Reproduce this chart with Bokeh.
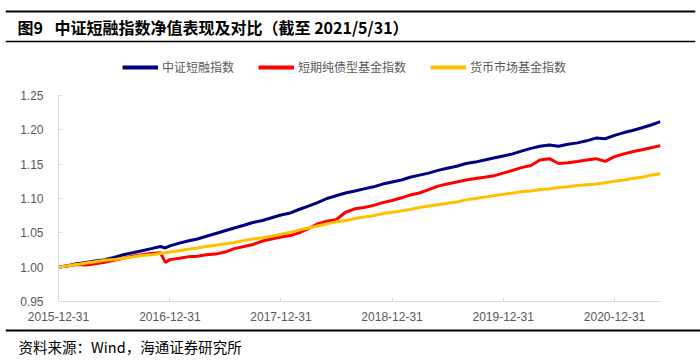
import pandas as pd
from bokeh.plotting import figure
from bokeh.models import (Range1d, FixedTicker, DatetimeTickFormatter, NumeralTickFormatter,
                          Legend, LegendItem, Span, Label)
from bokeh.layouts import column
from bokeh.embed import file_html
from bokeh.resources import INLINE

# ---------------- data ----------------
dates = list(pd.date_range("2015-12-31", "2021-05-31", freq="ME"))
dates.insert(12, pd.Timestamp("2016-12-16"))

csi_short_financing = [
    1.000, 1.002, 1.005, 1.007, 1.009, 1.011, 1.014, 1.018, 1.021, 1.024, 1.027, 1.030,
    1.028,
    1.031,
    1.035, 1.038, 1.041, 1.045, 1.049, 1.053, 1.057, 1.061, 1.065, 1.068, 1.072, 1.076,
    1.079, 1.084, 1.089, 1.094, 1.100, 1.104, 1.108, 1.111, 1.114, 1.117, 1.121, 1.124,
    1.127, 1.131, 1.134, 1.137, 1.141, 1.144, 1.147, 1.151, 1.153, 1.156, 1.159, 1.162,
    1.165, 1.169, 1.173, 1.176, 1.178, 1.176, 1.179, 1.181, 1.184, 1.188, 1.187, 1.192,
    1.196, 1.199, 1.203, 1.207, 1.212,
]
short_bond_fund = [
    1.000, 1.002, 1.004, 1.003, 1.005, 1.007, 1.010, 1.013, 1.016, 1.018, 1.020, 1.021,
    1.007,
    1.011,
    1.013, 1.015, 1.016, 1.018, 1.019, 1.022, 1.027, 1.030, 1.033, 1.038, 1.041, 1.044,
    1.046, 1.050, 1.056, 1.063, 1.067, 1.069, 1.080, 1.085, 1.087, 1.090, 1.094, 1.097,
    1.101, 1.105, 1.108, 1.113, 1.118, 1.121, 1.124, 1.127, 1.129, 1.131, 1.133, 1.137,
    1.141, 1.145, 1.148, 1.156, 1.158, 1.151, 1.152, 1.154, 1.156, 1.158, 1.154, 1.161,
    1.165, 1.168, 1.171, 1.174, 1.177,
]
money_market_fund = [
    1.000, 1.002, 1.004, 1.006, 1.008, 1.010, 1.011, 1.013, 1.015, 1.017, 1.018, 1.020,
    1.021,
    1.022,
    1.024, 1.026, 1.028, 1.030, 1.032, 1.034, 1.036, 1.039, 1.041, 1.043, 1.045, 1.048,
    1.051, 1.054, 1.057, 1.060, 1.063, 1.066, 1.068, 1.071, 1.073, 1.075, 1.078, 1.080,
    1.082, 1.084, 1.087, 1.089, 1.091, 1.093, 1.095, 1.098, 1.100, 1.102, 1.104, 1.106,
    1.108, 1.110, 1.111, 1.113, 1.114, 1.116, 1.117, 1.119, 1.120, 1.121, 1.123, 1.125,
    1.127, 1.129, 1.131, 1.134, 1.136,
]
series = [csi_short_financing, short_bond_fund, money_market_fund]
series_names = ["中证短融指数", "短期纯债型基金指数", "货币市场基金指数"]
series_colors = ["#000080", "#FF0000", "#FFC000"]
x_tick_labels = ["2015-12-31", "2016-12-31", "2017-12-31", "2018-12-31", "2019-12-31", "2020-12-31"]
y_ticks = [0.95, 1.00, 1.05, 1.10, 1.15, 1.20, 1.25]

title_prefix = "图9"
title_text = "中证短融指数净值表现及对比（截至 2021/5/31）"
source_text = "资料来源：Wind，海通证券研究所"

W = 700
CJK = "Noto Sans CJK SC"
LAT = "Liberation Sans"

# ---------------- header (title + legend) ----------------
HH = 79
hdr = figure(width=W, height=HH, x_range=Range1d(5, 695), y_range=Range1d(HH, 0),
             output_backend="svg", toolbar_location=None, min_border=0,
             min_border_left=5, min_border_right=5)
hdr.frame_align = False
hdr.axis.visible = False
hdr.grid.visible = False
hdr.outline_line_color = None
hdr.add_layout(Span(location=11, dimension="width", line_color="#000000", line_width=2))
hdr.add_layout(Span(location=41, dimension="width", line_color="#000000", line_width=1.5))
hdr.add_layout(Label(x=17, y=26.5, text=title_prefix, text_font=CJK, text_font_style="bold",
                     text_font_size="16px", text_baseline="middle", text_color="#000000"))
hdr.add_layout(Label(x=54, y=26.5, text=title_text, text_font=CJK, text_font_style="bold",
                     text_font_size="16px", text_baseline="middle", text_color="#000000"))

# legend keys: the same series, styled like the chart lines (their data lie outside this strip)
keys = [hdr.line(dates, vals, line_color=c, line_width=4) for vals, c in zip(series, series_colors)]
legend = Legend(items=[LegendItem(label=n, renderers=[r]) for n, r in zip(series_names, keys)],
                orientation="horizontal", location=(117, 4),
                glyph_width=36, glyph_height=12, label_standoff=4, spacing=24,
                padding=0, margin=0, border_line_color=None, background_fill_alpha=0,
                label_text_font=CJK, label_text_font_size="12px", label_text_color="#595959")
hdr.add_layout(legend)

# ---------------- main chart ----------------
x0 = pd.Timestamp("2015-12-31")
x1 = pd.Timestamp("2021-05-31")
p = figure(width=W, height=248, x_axis_type="datetime",
           x_range=Range1d(x0, x1), y_range=Range1d(0.95, 1.25),
           output_backend="svg", toolbar_location=None,
           min_border_left=58, min_border_right=40, min_border_top=16, min_border_bottom=26)
p.frame_align = False
p.outline_line_color = None
p.grid.visible = False

for vals, c in zip(series, series_colors):
    p.line(dates, vals, line_color=c, line_width=3)

tick_ms = [pd.Timestamp(s).value / 1e6 for s in x_tick_labels]
p.xaxis.ticker = FixedTicker(ticks=tick_ms)
fmt = "%Y-%m-%d"
p.xaxis.formatter = DatetimeTickFormatter(milliseconds=fmt, seconds=fmt, minsec=fmt, minutes=fmt,
                                          hourmin=fmt, hours=fmt, days=fmt, months=fmt, years=fmt)
p.yaxis.ticker = FixedTicker(ticks=y_ticks)
p.yaxis.formatter = NumeralTickFormatter(format="0.00")

for ax in (p.xaxis[0], p.yaxis[0]):
    ax.axis_line_color = "#D9D9D9"
    ax.major_tick_line_color = "#D9D9D9"
    ax.major_tick_in = 4
    ax.major_tick_out = 0
    ax.minor_tick_line_color = None
    ax.major_label_text_font = LAT
    ax.major_label_text_font_size = "12px"
    ax.major_label_text_color = "#595959"
p.xaxis.major_label_standoff = 10
p.yaxis.major_label_standoff = 15

# ---------------- footer ----------------
FH = 30
ftr = figure(width=W, height=FH, x_range=Range1d(5, 695), y_range=Range1d(FH, 0),
             output_backend="svg", toolbar_location=None, min_border=0,
             min_border_left=5, min_border_right=0)
ftr.frame_align = False
ftr.axis.visible = False
ftr.grid.visible = False
ftr.outline_line_color = None
ftr.add_layout(Span(location=3, dimension="width", line_color="#000000", line_width=2))
ftr.add_layout(Label(x=18, y=19, text=source_text, text_font=CJK, text_font_size="14.5px",
                     text_baseline="middle", text_color="#000000"))

layout = column(hdr, p, ftr, spacing=0)
open("out.html", "w").write(file_html(layout, INLINE))
